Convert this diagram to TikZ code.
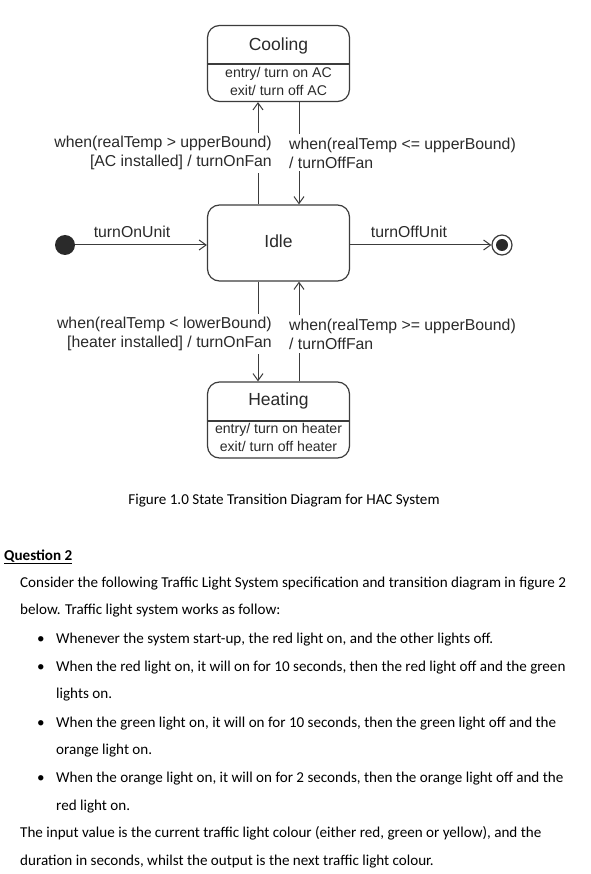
\documentclass[tikz,border=0pt]{standalone}
\usepackage{fontspec}
\setmainfont{Carlito}
\newfontfamily\arial{Liberation Sans}
\usetikzlibrary{arrows.meta}
\definecolor{ink}{HTML}{2A2A2A}
\definecolor{edge}{HTML}{3C3C3C}
\tikzset{
  statebox/.style={draw=edge, line width=1.2pt, rounded corners=12pt, minimum width=142pt, inner sep=0pt},
  conn/.style={draw=edge, line width=1pt},
  arr/.style={conn, -{Straight Barb[length=7pt,width=10pt,line width=1pt]}},
  lbl/.style={font=\arial\fontsize{15.8}{19}\selectfont, text=ink, inner xsep=0pt, inner ysep=3pt},
  inner/.style={font=\arial\fontsize{14.1}{16}\selectfont, text=ink, inner sep=0pt},
  title/.style={font=\arial\fontsize{17.5}{20}\selectfont, text=ink, inner sep=0pt},
  body/.style={font=\fontsize{15.1}{17}\selectfont, anchor=base west, inner sep=0pt},
  bul/.style={font=\fontsize{15.1}{17}\selectfont, anchor=base, inner sep=0pt}
}
\begin{document}
\begin{tikzpicture}[x=1pt,y=-1pt]
\useasboundingbox[fill=white] (0,0) rectangle (590,874);
\coordinate (xa) at (258,0);
\coordinate (xb) at (299,0);
% states
\node[statebox, minimum height=76pt] (cool) at (278.5,63.5) {};
\draw[edge, line width=1.2pt] (cool.west |- 0,64) -- (cool.east |- 0,64);
\node[title] (coolt) at (278.5,46) {Cooling};
\node[inner] (coole) at (278.5,74) {entry/ turn on AC};
\node[inner] (coolx) at (278.5,90) {exit/ turn off AC};

\node[statebox, minimum height=76pt] (idle) at (278.5,243) {};
\node[title] (idlet) at (278.5,241) {Idle};

\node[statebox, minimum height=76pt] (heat) at (278.5,420) {};
\draw[edge, line width=1.2pt] (heat.west |- 0,421) -- (heat.east |- 0,421);
\node[title] (heatt) at (278.5,401) {Heating};
\node[inner] (heate) at (278.5,430) {entry/ turn on heater};
\node[inner] (heatx) at (278.5,446) {exit/ turn off heater};

% pseudo states
\node[circle, fill=ink, minimum size=20pt, inner sep=0pt] (init) at (65,245) {};
\node[circle, draw=edge, line width=1.2pt, minimum size=20pt, inner sep=0pt] (fin) at (502,245) {};
\node[circle, fill=ink, minimum size=12pt, inner sep=0pt] (finin) at (502,245) {};

% transition labels
\node[lbl, align=right, anchor=east] (tl) at (272,153) {when(realTemp > upperBound)\\ {[AC installed] / turnOnFan}};
\node[lbl, align=left, anchor=west] (tr) at (289,153) {when(realTemp <= upperBound)\\ / turnOffFan};
\node[lbl, align=right, anchor=east] (bl) at (272,334) {when(realTemp < lowerBound)\\ {[heater installed] / turnOnFan}};
\node[lbl, align=left, anchor=west] (br) at (289,334) {when(realTemp >= upperBound)\\ / turnOffFan};
\node[lbl, anchor=base] (lon) at (132,238) {turnOnUnit};
\node[lbl, anchor=base] (loff) at (409,238) {turnOffUnit};

% connectors
\draw[arr] (tl.north -| xa) -- (cool.south -| xa);
\draw[conn] (tl.south -| xa) -- (idle.north -| xa);
\draw[conn] (cool.south -| xb) -- (tr.north -| xb);
\draw[arr] (tr.south -| xb) -- (idle.north -| xb);

\draw[conn] (idle.south -| xa) -- (bl.north -| xa);
\draw[arr] (bl.south -| xa) -- (heat.north -| xa);
\draw[conn] (heat.north -| xb) -- (br.south -| xb);
\draw[arr] (br.north -| xb) -- (idle.south -| xb);

\draw[arr] (init) -- (init -| idle.west);
\draw[arr] (idle.east |- fin) -- (fin.west);

% caption and text
\node[font=\fontsize{15.1}{17}\selectfont, inner sep=0pt, anchor=base] (cap) at (284,504) {Figure 1.0 State Transition Diagram for HAC System};
\node[body] (q) at (4,560) {\textbf{\underline{Question 2}}};
\node[body] (p1) at (20,587) {Consider the following Traffic Light System specification and transition diagram in figure 2};
\node[body] (p2) at (20,614) {below. Traffic light system works as follow:};
\node[bul] (b1) at (41,643) {•};
\node[body] (t1) at (56,643) {Whenever the system start-up, the red light on, and the other lights off.};
\node[bul] (b2) at (41,671) {•};
\node[body] (t2) at (56,671) {When the red light on, it will on for 10 seconds, then the red light off and the green};
\node[body] (t2b) at (56,698) {lights on.};
\node[bul] (b3) at (41,727) {•};
\node[body] (t3) at (56,727) {When the green light on, it will on for 10 seconds, then the green light off and the};
\node[body] (t3b) at (56,754) {orange light on.};
\node[bul] (b4) at (41,782) {•};
\node[body] (t4) at (56,782) {When the orange light on, it will on for 2 seconds, then the orange light off and the};
\node[body] (t4b) at (56,810) {red light on.};
\node[body] (p3) at (20,837) {The input value is the current traffic light colour (either red, green or yellow), and the};
\node[body] (p4) at (20,865) {duration in seconds, whilst the output is the next traffic light colour.};
\end{tikzpicture}
\end{document}
